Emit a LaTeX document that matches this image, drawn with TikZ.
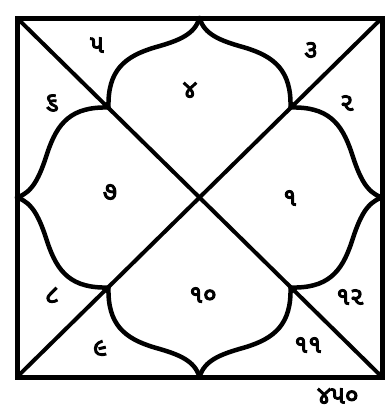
\documentclass[tikz,border=0pt]{standalone}
\usepackage{fontspec}
\newfontfamily\guj[Script=Gujarati,FakeBold=4]{Noto Sans Gujarati UI}
\tikzset{
  frameline/.style={line width=5pt, line join=miter},
  diag/.style={line width=4pt},
  petal/.style={line width=4.5pt, line cap=round},
  lbl/.style={font=\guj\fontsize{25}{26}\selectfont, inner sep=0pt}
}
\begin{document}
\begin{tikzpicture}[x=1pt,y=-1pt]
\useasboundingbox (0,0) rectangle (389,410);
\begin{scope}[shift={(199.5,197.5)}]
  % frame and diagonals
  \coordinate (tl) at (-182.5,-179.5);
  \coordinate (tr) at (182.5,-179.5);
  \coordinate (br) at (182.5,179.5);
  \coordinate (bl) at (-182.5,179.5);
  \draw[diag] (tl) -- (br);
  \draw[diag] (tr) -- (bl);
  \draw[frameline] (tl) rectangle (br);
  % petals
  \draw[petal] (-91,-90) .. controls (-92,-127) and (-75,-141) .. (-45,-150)
               .. controls (-20,-157) and (-5,-163) .. (0,-179.5);
  \draw[petal] (91,-90) .. controls (92,-127) and (75,-141) .. (45,-150)
               .. controls (20,-157) and (5,-163) .. (0,-179.5);
  \draw[petal] (-91,90) .. controls (-92,127) and (-75,141) .. (-45,150)
               .. controls (-20,157) and (-5,163) .. (0,179.5);
  \draw[petal] (91,90) .. controls (92,127) and (75,141) .. (45,150)
               .. controls (20,157) and (5,163) .. (0,179.5);
  \draw[petal] (-91,-90) .. controls (-128,-91) and (-142,-75) .. (-152,-45)
               .. controls (-160,-20) and (-167,-5) .. (-182.5,0);
  \draw[petal] (-91,90) .. controls (-128,91) and (-142,75) .. (-152,45)
               .. controls (-160,20) and (-167,5) .. (-182.5,0);
  \draw[petal] (91,-90) .. controls (128,-91) and (142,-75) .. (152,-45)
               .. controls (160,-20) and (167,-5) .. (182.5,0);
  \draw[petal] (91,90) .. controls (128,91) and (142,75) .. (152,45)
               .. controls (160,20) and (167,5) .. (182.5,0);
\end{scope}
% labels
\node[lbl] (h5) at (97,45) {૫};
\node[lbl] (h3) at (311,50) {૩};
\node[lbl] (h4) at (190,90) {૪};
\node[lbl] (h6) at (52,103) {૬};
\node[lbl] (h2) at (347,103) {૨};
\node[lbl] (h7) at (110,192) {૭};
\node[lbl] (h1) at (290,198) {૧};
\node[lbl] (h8) at (52,295) {૮};
\node[lbl] (h10) at (203,295) {૧૦};
\node[lbl] (h12) at (350,297) {૧૨};
\node[lbl] (h9) at (100,348) {૯};
\node[lbl] (h11) at (308,345) {૧૧};
\node[lbl] (num) at (338,396) {૪૫૦};
\end{tikzpicture}
\end{document}
